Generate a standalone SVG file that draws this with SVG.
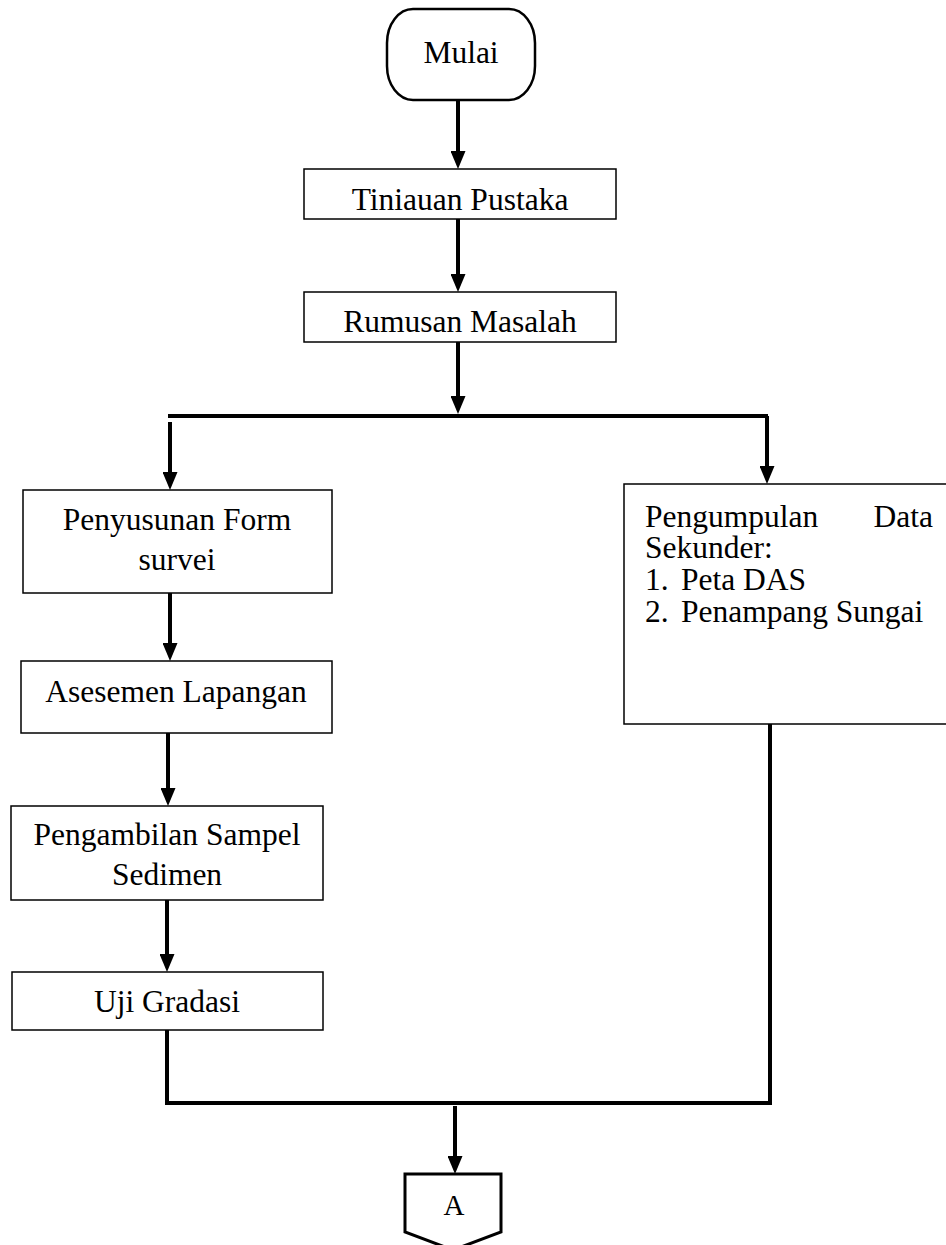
<svg xmlns="http://www.w3.org/2000/svg" width="946" height="1245" viewBox="0 0 946 1245">
<style>
.box{fill:#fff;stroke:#000;stroke-width:1.5}
.t{font-family:"Liberation Serif","Times New Roman",serif;font-size:31.5px;fill:#000}
.c{text-anchor:middle}
.ln{fill:none;stroke:#000;stroke-width:4}
</style>
<defs>
<marker id="ah" markerUnits="userSpaceOnUse" markerWidth="18" markerHeight="15" refX="6" refY="7.5" orient="auto">
<path d="M0,0 L18,7.5 L0,15 z" fill="#000"/>
</marker>
</defs>
<rect width="946" height="1245" fill="#fff"/>
<g id="connectors">
<path class="ln" d="M458,100 V157" marker-end="url(#ah)"/>
<path class="ln" d="M458,219 V280" marker-end="url(#ah)"/>
<path class="ln" d="M458,342 V402" marker-end="url(#ah)"/>
<path class="ln" d="M168,416 H768"/>
<path class="ln" d="M170,422 V478" marker-end="url(#ah)"/>
<path class="ln" d="M767,416 V472" marker-end="url(#ah)"/>
<path class="ln" d="M170,593 V649" marker-end="url(#ah)"/>
<path class="ln" d="M168,733 V794" marker-end="url(#ah)"/>
<path class="ln" d="M167,900 V960" marker-end="url(#ah)"/>
<path class="ln" d="M167,1030 V1103 H770 V722"/>
<path class="ln" d="M455,1106 V1162" marker-end="url(#ah)"/>
</g>
<g id="mulai">
<rect x="387" y="9" width="148" height="91" rx="26" ry="34" fill="#fff" stroke="#000" stroke-width="2.5"/>
<text class="t c" x="461" y="63">Mulai</text>
</g>
<g id="tinjauan">
<rect class="box" x="304" y="169" width="312" height="50"/>
<text class="t c" x="460" y="210">Tiniauan Pustaka</text>
</g>
<g id="rumusan">
<rect class="box" x="304" y="292" width="312" height="50"/>
<text class="t c" x="460" y="332">Rumusan Masalah</text>
</g>
<g id="penyusunan">
<rect class="box" x="23" y="490" width="309" height="103"/>
<text class="t c" x="177" y="530">Penyusunan Form</text>
<text class="t c" x="177" y="570">survei</text>
</g>
<g id="pengumpulan">
<rect class="box" x="624" y="484" width="340" height="240"/>
<text class="t" x="645" y="527">Pengumpulan</text>
<text class="t" x="933" y="527" text-anchor="end">Data</text>
<text class="t" x="645" y="558">Sekunder:</text>
<text class="t" x="645" y="590">1.</text>
<text class="t" x="681" y="590">Peta DAS</text>
<text class="t" x="645" y="622">2.</text>
<text class="t" x="681" y="622">Penampang Sungai</text>
</g>
<g id="asesemen">
<rect class="box" x="21" y="661" width="311" height="72"/>
<text class="t c" x="176" y="702">Asesemen Lapangan</text>
</g>
<g id="pengambilan">
<rect class="box" x="11" y="806" width="312" height="94"/>
<text class="t c" x="167" y="845">Pengambilan Sampel</text>
<text class="t c" x="167" y="885">Sedimen</text>
</g>
<g id="uji">
<rect class="box" x="12" y="972" width="311" height="58"/>
<text class="t c" x="167" y="1012">Uji Gradasi</text>
</g>
<g id="connectorA">
<path d="M405,1174 H501 V1232 L453,1250 L405,1232 Z" fill="#fff" stroke="#000" stroke-width="3"/>
<text class="t c" x="454" y="1215" style="font-size:29px">A</text>
</g>
</svg>
